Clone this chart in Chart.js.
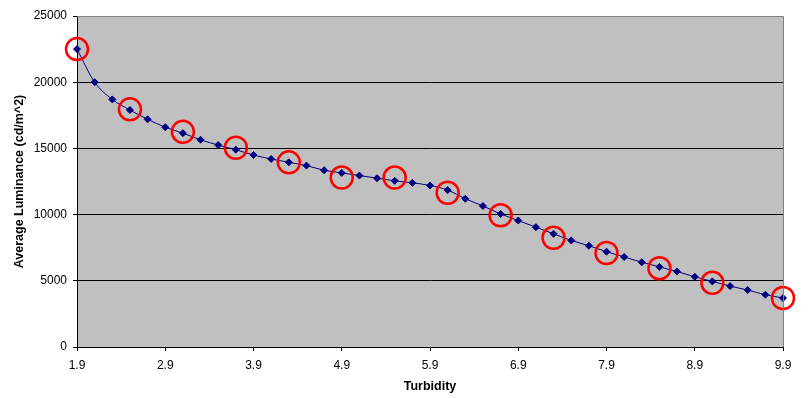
<!DOCTYPE html>
<html>
<head>
<meta charset="utf-8">
<script src="https://cdn.jsdelivr.net/npm/chart.js@4.4.7/dist/chart.umd.min.js"></script>
<style>
  html, body { margin: 0; padding: 0; background: #fff; }
  #wrap { width: 810px; height: 398px; }
</style>
</head>
<body>
<div id="wrap"><canvas id="chart"></canvas></div>
<script>
// measured curve, every 0.2 turbidity
const turbidity = [1.9, 2.1, 2.3, 2.5, 2.7, 2.9, 3.1, 3.3, 3.5, 3.7, 3.9, 4.1, 4.3, 4.5,
  4.7, 4.9, 5.1, 5.3, 5.5, 5.7, 5.9, 6.1, 6.3, 6.5, 6.7, 6.9, 7.1, 7.3, 7.5, 7.7, 7.9,
  8.1, 8.3, 8.5, 8.7, 8.9, 9.1, 9.3, 9.5, 9.7, 9.9]
const luminance = [22500, 20000, 18700, 17900, 17200, 16600, 16150, 15650, 15250, 14900,
  14500, 14200, 13950, 13700, 13350, 13150, 12950, 12750, 12550, 12400, 12200, 11850,
  11200, 10650, 10050, 9550, 9050, 8550, 8050, 7650, 7200, 6800, 6400, 6050, 5700, 5300,
  4950, 4600, 4300, 3950, 3700]

// red circled points
const circleTurbidity = [1.9, 2.5, 3.1, 3.7, 4.3, 4.9, 5.5, 6.1, 6.7, 7.3, 7.9, 8.5, 9.1, 9.9]
const circleLuminance = [22500, 17950, 16250, 15050, 13950, 12800, 12800, 11650, 9950,
  8250, 7100, 5950, 4850, 3700]

const xTicks = [1.9, 2.9, 3.9, 4.9, 5.9, 6.9, 7.9, 8.9, 9.9]
const yTicks = [0, 5000, 10000, 15000, 20000, 25000]

const plotArea = {
  id: "plotArea",
  beforeDraw(chart) {
    const { ctx, chartArea: a } = chart
    ctx.save()
    ctx.fillStyle = "#c0c0c0"
    ctx.fillRect(a.left, a.top, a.right - a.left, a.bottom - a.top)
    ctx.restore()
  },
  afterDraw(chart) {
    const { ctx, chartArea: a } = chart
    ctx.save()
    ctx.strokeStyle = "#808080"
    ctx.lineWidth = 1
    ctx.beginPath()
    ctx.moveTo(a.left, a.top + 0.5)
    ctx.lineTo(a.right + 0.5, a.top + 0.5)
    ctx.lineTo(a.right + 0.5, a.bottom)
    ctx.stroke()
    ctx.restore()
  }
}

const font = { family: "'Liberation Sans', Arial, sans-serif", size: 12 }
const boldFont = { family: "'Liberation Sans', Arial, sans-serif", size: 12.5, weight: "bold" }

new Chart(document.getElementById("chart"), {
  type: "scatter",
  data: {
    datasets: [
      {
        label: "Circled",
        data: circleTurbidity.map((x, i) => ({ x, y: circleLuminance[i] })),
        showLine: false,
        clip: false,
        pointStyle: "circle",
        pointRadius: 11,
        pointHoverRadius: 11,
        borderColor: "#ff0000",
        backgroundColor: "rgba(0,0,0,0)",
        pointBorderWidth: 2.5,
        order: 0
      },
      {
        label: "Average Luminance",
        data: turbidity.map((x, i) => ({ x, y: luminance[i] })),
        showLine: true,
        clip: false,
        borderColor: "#000080",
        borderWidth: 1,
        cubicInterpolationMode: "monotone",
        pointStyle: "rectRot",
        pointRadius: 3.5,
        pointBackgroundColor: "#000080",
        pointBorderColor: "#000080",
        pointBorderWidth: 1,
        order: 1
      }
    ]
  },
  options: {
    responsive: true,
    maintainAspectRatio: false,
    animation: false,
    layout: { padding: { top: 16, right: 27, left: 0, bottom: 0 } },
    plugins: {
      legend: { display: false },
      tooltip: { enabled: false }
    },
    scales: {
      x: {
        type: "linear",
        min: 1.9,
        max: 9.9,
        afterBuildTicks: s => { s.ticks = xTicks.map(v => ({ value: v })) },
        afterFit: s => { s.height = 51 },
        ticks: {
          color: "#000",
          font,
          padding: 7,
          maxRotation: 0,
          callback: v => Number(v).toFixed(1)
        },
        grid: {
          drawOnChartArea: false,
          drawTicks: true,
          tickLength: 4,
          tickColor: "#000"
        },
        border: { color: "#000", width: 1 },
        title: {
          display: true,
          text: "Turbidity",
          color: "#000",
          font: boldFont,
          padding: { top: 0, bottom: 4 }
        }
      },
      y: {
        min: 0,
        max: 25000,
        afterBuildTicks: s => { s.ticks = yTicks.map(v => ({ value: v })) },
        afterFit: s => { s.width = 77 },
        ticks: {
          color: "#000",
          font,
          padding: 6,
          callback: v => String(v)
        },
        grid: {
          color: c => (c.tick && (c.tick.value === 25000 || c.tick.value === 0)) ? "rgba(0,0,0,0)" : "#000",
          lineWidth: 1,
          tickLength: 4,
          tickColor: "#000"
        },
        border: { color: "#000", width: 1 },
        title: {
          display: true,
          text: "Average Luminance (cd/m^2)",
          color: "#000",
          font: boldFont,
          padding: { top: 12, bottom: 0 }
        }
      }
    }
  },
  plugins: [plotArea]
})
</script>
</body>
</html>
